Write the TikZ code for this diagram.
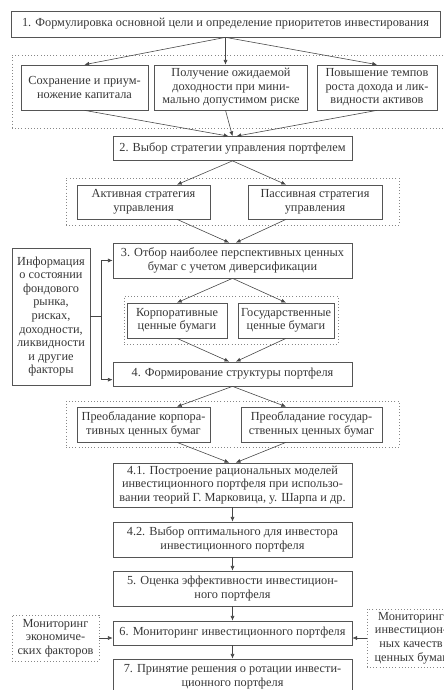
\documentclass[tikz,border=0pt]{standalone}
\usepackage{fontspec}
\setmainfont{Liberation Serif}
\usepackage{tikz}
\usetikzlibrary{positioning,arrows.meta,calc}
\usepackage{xcolor}
\definecolor{boxgray}{RGB}{85,85,85}
\definecolor{txtgray}{RGB}{55,55,55}
\definecolor{dotgray}{RGB}{135,135,135}
\definecolor{arrgray}{RGB}{70,70,70}

\begin{document}
\begin{tikzpicture}[font=\fontsize{10.5}{11.6}\selectfont]
\tikzset{
  BX/.style={draw=boxgray,line width=0.6pt,rectangle,minimum width=7.17cm,minimum height=1.05cm,align=center,inner sep=1pt,text=txtgray},
  GR/.style={draw=dotgray,dotted,line width=0.7pt,rectangle,inner sep=0pt},
  DT/.style={draw=dotgray,dotted,line width=0.7pt,rectangle,align=center,inner sep=1pt,text=txtgray},
  FL/.style={-{Latex[length=4pt,width=3.4pt]},line width=0.5pt,arrgray},
}
\clip (0,0) rectangle (13.32,-20.7);

% dotted groups
\node[GR,minimum width=13.2cm,minimum height=2.19cm](g1) at (6.96,-2.745){};
\node[GR,minimum width=9.99cm,minimum height=1.41cm](g2) at (6.975,-6.045){};
\node[GR,minimum width=6.42cm,minimum height=1.44cm](g3) at (6.93,-9.6){};
\node[GR,minimum width=9.99cm,minimum height=1.38cm](g4) at (6.975,-12.72){};

\node[BX,minimum width=12.87cm,minimum height=0.78cm](b1) at (6.765,-0.72){1. Формулировка основной цели и определение приоритетов инвестирования};

\node[BX,minimum width=3.81cm,minimum height=1.35cm](a1) at ( 2.535,-2.625){Сохранение и приум-\\ножение капитала};
\node[BX,minimum width=4.59cm,minimum height=1.35cm](a2) at ( 6.93,-2.625){Получение ожидаемой\\доходности при мини-\\мально допустимом риске};
\node[BX,minimum width=3.6cm,minimum height=1.35cm](a3) at (11.31,-2.625){Повышение темпов\\роста дохода и лик-\\видности активов};

\node[BX,minimum height=0.72cm](b2) at (6.975,-4.455){2. Выбор стратегии управления портфелем};

\node[BX,minimum width=3.99cm,minimum height=1.02cm](act) at (4.305,-6.06){Активная стратегия\\управления};
\node[BX,minimum width=4.02cm,minimum height=1.02cm](pas) at (9.45,-6.06){Пассивная стратегия\\управления};

\node[BX](b3) at (6.975,-7.815){3. Отбор наиболее перспективных ценных\\бумаг с учетом диверсификации};

\node[BX,minimum width=3.0cm](corp) at (5.31,-9.615){Корпоративные\\ценные бумаги};
\node[BX,minimum width=2.88cm](gov) at (8.58,-9.615){Государственные\\ценные бумаги};

\node[BX,minimum width=2.34cm,minimum height=4.11cm](info) at (1.53,-9.495){Информация\\о состоянии\\фондового\\рынка,\\рисках,\\доходности,\\ликвидности\\и другие\\факторы};

\node[BX,minimum height=0.72cm](b4) at (6.975,-11.22){4. Формирование структуры портфеля};

\node[BX,minimum width=3.99cm](pk) at (4.305,-12.735){Преобладание корпора-\\тивных ценных бумаг};
\node[BX,minimum width=4.23cm](pg) at (9.345,-12.735){Преобладание государ-\\ственных ценных бумаг};

\node[BX,minimum height=1.32cm](b41) at (6.975,-14.55){4.1. Построение рациональных моделей\\инвестиционного портфеля при использо-\\вании теорий Г. Марковица, у. Шарпа и др.};
\node[BX](b42) at (6.975,-16.185){4.2. Выбор оптимального для инвестора\\инвестиционного портфеля};
\node[BX](b5)  at (6.975,-17.655){5. Оценка эффективности инвестицион-\\ного портфеля};
\node[BX,minimum height=0.72cm](b6) at (6.975,-18.99){6. Мониторинг инвестиционного портфеля};
\node[BX,minimum height=1.08cm](b7) at (6.975,-20.31){7. Принятие решения о ротации инвести-\\ционного портфеля};

\node[DT,minimum width=2.61cm,minimum height=1.38cm](monl) at ( 1.665,-19.14){Мониторинг\\экономиче-\\ских факторов};
\node[DT,minimum width=2.64cm,minimum height=1.74cm](monr) at (12.33,-19.14){Мониторинг\\инвестицион-\\ных качеств\\ценных бумаг};

% 1 -> goals -> 2
\draw[FL](b1.south)--(a1.north);
\draw[FL](b1.south)--(b1.south|-a2.north);
\draw[FL](b1.south)--(a3.north);
\draw[FL](a1.south)--([xshift=-0.12cm]b2.north);
\draw[FL](b1.south|-a2.south)--(b2.north);
\draw[FL](a3.south)--([xshift=0.12cm]b2.north);

% 2 -> strategies -> 3
\draw[FL](b2.south)--(act.north-|corp.north);
\draw[FL](b2.south)--(pas.north-|gov.north);
\draw[FL](act.south-|corp.south)--([xshift=-0.1cm]b3.north);
\draw[FL](pas.south-|gov.south)--([xshift=0.1cm]b3.north);

% 3 -> papers -> 4
\draw[FL](b3.south)--(corp.north);
\draw[FL](b3.south)--(gov.north);
\draw[FL](corp.south)--([xshift=-0.1cm]b4.north);
\draw[FL](gov.south)--([xshift=0.1cm]b4.north);

% info
\draw[line width=0.5pt,arrgray](info.east)--++(0.33,0)coordinate(ij);
\draw[FL](ij)|-(b3.west);
\draw[FL](ij)|-([yshift=-0.17cm]b4.west);

% 4 -> shares -> 4.1
\draw[FL](b4.south)--(pk.north-|corp.north);
\draw[FL](b4.south)--(pg.north-|gov.north);
\draw[FL](pk.south-|corp.south)--([xshift=-0.1cm]b41.north);
\draw[FL](pg.south-|gov.south)--([xshift=0.1cm]b41.north);

\draw[FL](b41.south)--(b42.north);
\draw[FL](b42.south)--(b5.north);
\draw[FL](b5.south)--(b6.north);
\draw[FL](b6.south)--(b7.north);

\draw[FL](monl.east)--(monl.east-|b6.west);
\draw[FL](monr.west)--(monr.west-|b6.east);

\end{tikzpicture}
\end{document}
